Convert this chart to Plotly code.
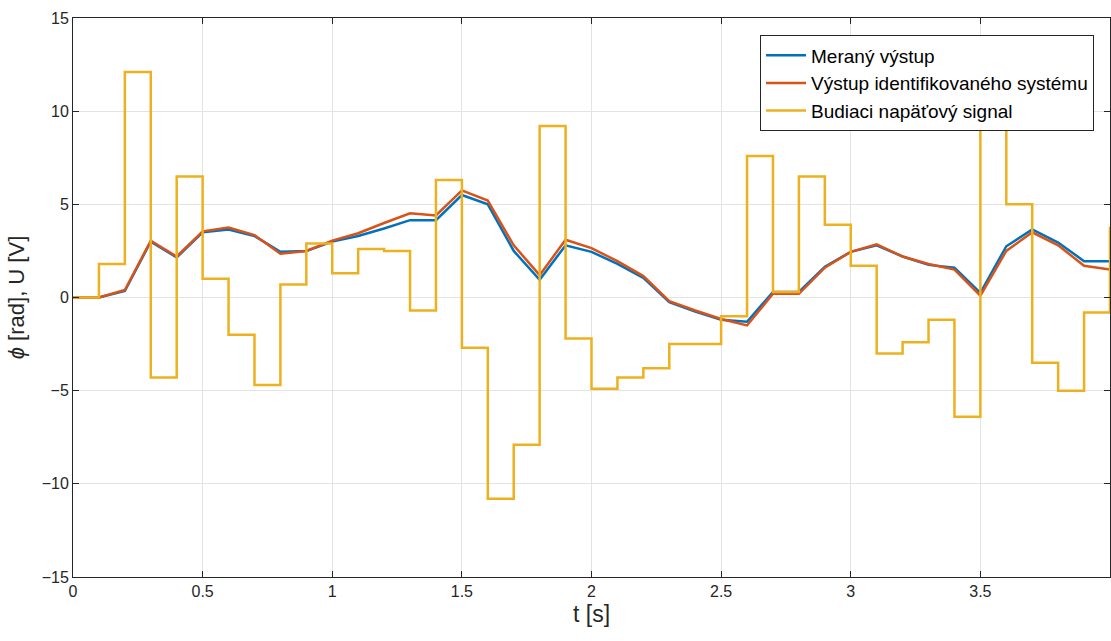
import plotly.graph_objects as go

# time axis (s), samples every 0.1 s
t = [round(0.1 * i, 1) for i in range(41)]

# measured output (rad)
measured = [0, 0, 0.35, 3.0, 2.15, 3.5, 3.65, 3.3, 2.45, 2.5,
            3.0, 3.3, 3.7, 4.15, 4.15, 5.5, 5.0, 2.5, 0.95, 2.8,
            2.45, 1.8, 1.05, -0.25, -0.75, -1.2, -1.3, 0.3, 0.3, 1.65,
            2.45, 2.8, 2.2, 1.75, 1.6, 0.25, 2.75, 3.65, 2.95, 1.95, 1.95]

# identified system output (rad)
identified = [0, 0, 0.4, 3.05, 2.2, 3.55, 3.75, 3.35, 2.35, 2.5,
              3.05, 3.45, 4.0, 4.52, 4.4, 5.75, 5.2, 2.8, 1.2, 3.1,
              2.65, 1.95, 1.15, -0.2, -0.7, -1.15, -1.5, 0.2, 0.2, 1.6,
              2.45, 2.85, 2.2, 1.8, 1.5, 0.1, 2.5, 3.5, 2.8, 1.7, 1.5]

# excitation voltage (V), zero-order hold
voltage = [0, 1.8, 12.1, -4.3, 6.5, 1.0, -2.0, -4.7, 0.7, 2.9,
           1.3, 2.6, 2.5, -0.7, 6.3, -2.7, -10.8, -7.9, 9.2, -2.2,
           -4.9, -4.3, -3.8, -2.5, -2.5, -1.0, 7.6, 0.3, 6.5, 3.9,
           1.7, -3.0, -2.4, -1.2, -6.4, 12.5, 5.0, -3.5, -5.0, -0.8, 3.8]

names = ["Meraný výstup", "Výstup identifikovaného systému", "Budiaci napäťový signal"]
colors = ["#0072BD", "#D95319", "#EDB120"]

fig = go.Figure()
fig.add_trace(go.Scatter(x=t, y=measured, mode="lines", name=names[0],
                         line=dict(color=colors[0], width=2.5)))
fig.add_trace(go.Scatter(x=t, y=identified, mode="lines", name=names[1],
                         line=dict(color=colors[1], width=2.5)))
fig.add_trace(go.Scatter(x=t, y=voltage, mode="lines", name=names[2],
                         line=dict(color=colors[2], width=2.5, shape="hv")))

axis_common = dict(
    showline=True, linecolor="#262626", linewidth=1, mirror="ticks",
    ticks="inside", ticklen=6, tickcolor="#262626",
    showgrid=True, gridcolor="#E3E3E3", gridwidth=1,
    zeroline=False, automargin=False,
    tickfont=dict(family="Liberation Sans, Arial", size=16, color="#262626"),
)

fig.update_xaxes(range=[0, 4], tickvals=[0, 0.5, 1, 1.5, 2, 2.5, 3, 3.5, 4],
                 ticktext=["0", "0.5", "1", "1.5", "2", "2.5", "3", "3.5", "4"],
                 title=dict(text="t [s]", standoff=6,
                            font=dict(family="Liberation Sans, Arial", size=23, color="#262626")),
                 **axis_common)
fig.update_yaxes(range=[-15, 15], tickvals=[-15, -10, -5, 0, 5, 10, 15],
                 title=dict(text="<i>ϕ</i> [rad], U [V]", standoff=10,
                            font=dict(family="Liberation Sans, Arial", size=22, color="#262626")),
                 **axis_common)

fig.update_layout(
    width=1111, height=641,
    margin=dict(l=73, r=1, t=18, b=64, autoexpand=False),
    paper_bgcolor="white", plot_bgcolor="white",
    showlegend=True,
    legend=dict(x=0.9846, y=0.969, xanchor="right", yanchor="top",
                bgcolor="white", bordercolor="#262626", borderwidth=1,
                font=dict(family="Liberation Sans, Arial", size=19, color="#000000"),
                tracegroupgap=0, itemwidth=40),
)

fig.write_html("out.html", config={"displayModeBar": False})

# remove the default page margin so the figure sits at the window origin
with open("out.html", "r", encoding="utf-8") as f:
    html = f.read()
html = html.replace("<body>", '<body style="margin:0;padding:0;overflow:hidden">', 1)
with open("out.html", "w", encoding="utf-8") as f:
    f.write(html)
